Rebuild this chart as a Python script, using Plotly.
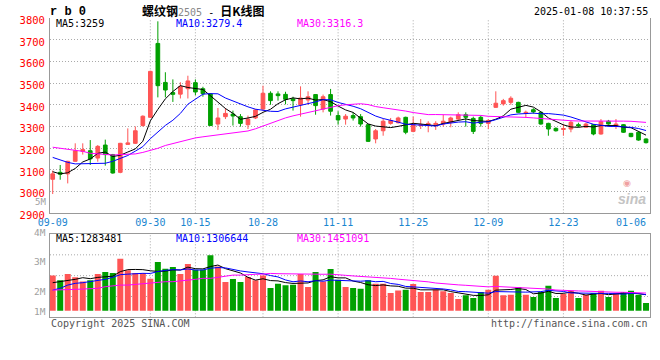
import plotly.graph_objects as go

# ---------------- data ----------------
dates = ["09-09","09-10","09-11","09-12","09-13","09-18","09-19","09-20","09-23","09-24",
         "09-25","09-26","09-27","09-30","10-08","10-09","10-10","10-11","10-14","10-15",
         "10-16","10-17","10-18","10-21","10-22","10-23","10-24","10-25","10-28","10-29",
         "10-30","10-31","11-01","11-04","11-05","11-06","11-07","11-08","11-11","11-12",
         "11-13","11-14","11-15","11-18","11-19","11-20","11-21","11-22","11-25","11-26",
         "11-27","11-28","11-29","12-02","12-03","12-04","12-05","12-06","12-09","12-10",
         "12-11","12-12","12-13","12-16","12-17","12-18","12-19","12-20","12-23","12-24",
         "12-25","12-26","12-27","12-30","12-31","01-02","01-03","01-06","01-07","01-08"]

opens = [3057,3089,3082,3140,3186,3189,3155,3215,3171,3089,
         3218,3223,3305,3343,3684,3504,3457,3450,3475,3503,
         3475,3451,3312,3346,3358,3346,3309,3340,3381,3454,
         3451,3449,3428,3401,3423,3448,3381,3448,3351,3335,
         3351,3346,3309,3243,3281,3315,3318,3343,3278,3305,
         3305,3309,3312,3320,3335,3355,3338,3343,3315,3389,
         3405,3412,3412,3361,3378,3366,3315,3292,3287,3289,
         3309,3297,3309,3266,3325,3305,3309,3269,3274,3243]
highs = [3097,3123,3142,3223,3223,3238,3215,3240,3174,3225,
         3292,3301,3352,3558,3786,3551,3518,3505,3535,3518,
         3484,3455,3386,3386,3374,3358,3351,3381,3489,3463,
         3463,3461,3438,3486,3463,3450,3448,3474,3371,3358,
         3366,3358,3312,3289,3335,3340,3346,3346,3346,3335,
         3325,3325,3355,3346,3366,3366,3346,3351,3335,3463,
         3428,3440,3415,3374,3385,3370,3318,3297,3312,3328,
         3318,3318,3312,3335,3331,3335,3312,3271,3280,3246]
lows = [2989,3055,3038,3138,3171,3123,3138,3120,3083,3085,
        3217,3220,3300,3341,3435,3435,3414,3430,3430,3445,
        3438,3303,3285,3335,3305,3300,3289,3335,3374,3401,
        3420,3403,3374,3346,3401,3355,3366,3351,3309,3309,
        3328,3300,3229,3223,3258,3309,3315,3265,3275,3289,
        3274,3285,3300,3297,3331,3300,3266,3300,3289,3386,
        3397,3401,3362,3340,3360,3309,3258,3277,3258,3274,
        3297,3294,3260,3263,3309,3289,3271,3251,3235,3222]
closes = [3082,3080,3140,3189,3194,3151,3209,3171,3086,3223,
          3225,3281,3348,3555,3489,3469,3449,3485,3511,3460,
          3452,3305,3340,3361,3349,3315,3335,3377,3454,3420,
          3443,3426,3420,3432,3438,3397,3438,3371,3331,3348,
          3340,3312,3232,3281,3325,3328,3340,3274,3309,3309,
          3315,3315,3325,3340,3355,3343,3278,3315,3328,3408,
          3420,3431,3366,3366,3368,3312,3289,3281,3291,3320,
          3303,3312,3266,3323,3312,3312,3274,3254,3238,3226]
# volume, millions of lots
volumes = [2.82,2.43,2.94,2.67,2.34,2.43,2.94,3.09,3.01,4.16,
           3.23,3.01,3.01,2.56,3.90,3.36,3.49,2.94,3.73,3.28,
           3.28,4.43,3.54,2.29,2.53,2.29,2.70,2.43,2.82,1.81,
           2.16,2.03,2.08,2.94,1.89,3.09,2.34,3.33,2.48,1.89,
           1.81,1.76,2.43,2.16,2.16,1.41,1.62,1.68,2.13,1.50,
           1.50,1.68,1.55,1.41,0.93,1.23,1.02,1.50,1.68,2.80,
           1.23,1.28,1.89,1.28,1.09,1.50,2.00,1.02,1.33,1.60,
           1.02,1.28,1.41,1.60,1.09,1.41,1.50,1.60,1.28,0.61]

# moving-average values before enough visible history exists
ma5_early = [3092, 3082, 3087, 3107]
ma10_early = [3158, 3146, 3135, 3128, 3128, 3128, 3128, 3131, 3140]
ma30_early = [3205, 3200, 3194, 3189, 3186, 3177, 3174, 3171, 3169, 3171,
              3171, 3174, 3181, 3190, 3200, 3213, 3222, 3232, 3242, 3248,
              3253, 3258, 3262, 3266, 3271, 3275, 3280, 3290, 3303]
vma5_early = [2.24, 2.32, 2.45, 2.51]
vma10_early = [1.65, 1.79, 2.05, 2.19, 2.24, 2.32, 2.45, 2.51, 2.67]
vma30_early = [1.65, 1.65, 1.65, 1.71, 1.73, 1.79, 1.79, 1.92, 2.00, 2.05,
               2.05, 2.10, 2.19, 2.19, 2.27, 2.32, 2.32, 2.37, 2.45, 2.51,
               2.59, 2.59, 2.67, 2.77, 2.85, 2.85, 2.85, 2.91, 2.93]

price_ticks = [2900, 3000, 3100, 3200, 3300, 3400, 3500, 3600, 3700, 3800]
date_ticks = ["09-09", "09-30", "10-15", "10-28", "11-11", "11-25", "12-09", "12-23", "01-06"]
grid_dates = ["09-30", "10-15", "10-28", "11-11", "11-25", "12-09", "12-23"]
vol_labels = ["5M", "4M", "3M", "2M", "1M"]
price_ma_text = ["MA5:3259", "MA10:3279.4", "MA30:3316.3"]
vol_ma_text = ["MA5:1283481", "MA10:1306644", "MA30:1451091"]

# ---------------- helpers ----------------
def moving_avg(vals, n, early):
    out = list(early)
    for i in range(len(early), len(vals)):
        out.append(sum(vals[i - n + 1:i + 1]) / n)
    return out

ma5 = moving_avg(closes, 5, ma5_early)
ma10 = moving_avg(closes, 10, ma10_early)
ma30 = moving_avg(closes, 30, ma30_early)
vma5 = moving_avg(volumes, 5, vma5_early)
vma10 = moving_avg(volumes, 10, vma10_early)
vma30 = moving_avg(volumes, 30, vma30_early)

RED = "#ff5555"
GREEN = "#00a000"
MA_COLORS = ["#000000", "#0000ff", "#ff00ff"]
GRID = "#aaaaaa"
BORDER = "#999999"
MONO = "DejaVu Sans Mono"
xi = list(range(len(dates)))
bar_colors = [RED if c >= o else GREEN for o, c in zip(opens, closes)]

W, H = 660, 360
PL, PR = 50, 650
def px(xp):
    return (xp - PL) / (PR - PL)
def py(yp):
    return 1 - yp / H

fig = go.Figure()
fig.add_trace(go.Candlestick(
    x=xi, open=opens, high=highs, low=lows, close=closes,
    increasing=dict(line=dict(color=RED, width=1), fillcolor=RED),
    decreasing=dict(line=dict(color=GREEN, width=1), fillcolor=GREEN),
    whiskerwidth=0, xaxis="x", yaxis="y", hoverinfo="skip"))
for vals, col in zip([ma5, ma10, ma30], MA_COLORS):
    fig.add_trace(go.Scatter(x=xi, y=vals, mode="lines", line=dict(color=col, width=1),
                             xaxis="x", yaxis="y", hoverinfo="skip"))
fig.add_trace(go.Bar(x=xi, y=volumes, marker=dict(color=bar_colors, line=dict(width=0)),
                     width=0.8, xaxis="x2", yaxis="y2", hoverinfo="skip"))
for vals, col in zip([vma5, vma10, vma30], MA_COLORS):
    fig.add_trace(go.Scatter(x=xi, y=vals, mode="lines", line=dict(color=col, width=1),
                             xaxis="x2", yaxis="y2", hoverinfo="skip"))

x_range = [-0.36, 79.53]
tick_idx = [dates.index(d) for d in date_ticks]
grid_idx = [dates.index(d) for d in grid_dates]

shapes = []
for gi in grid_idx:
    for yr in ["y domain", "y2 domain"]:
        shapes.append(dict(type="line", xref="x", yref=yr, x0=gi, x1=gi, y0=0, y1=1,
                           line=dict(color=GRID, width=1, dash="1px,2px"), layer="below"))
for f in [0.25, 0.5, 0.75]:
    shapes.append(dict(type="line", xref="paper", yref="y2 domain", x0=0, x1=1, y0=f, y1=f,
                       line=dict(color=GRID, width=1, dash="1px,2px"), layer="below"))

fig.update_layout(
    template="none",
    width=W, height=H,
    margin=dict(l=PL, r=W - PR, t=0, b=0, pad=0, autoexpand=False),
    paper_bgcolor="white", plot_bgcolor="white",
    showlegend=False, hovermode=False,
    xaxis=dict(domain=[0, 1], anchor="y", range=x_range, rangeslider=dict(visible=False),
               automargin=False,
               tickmode="array", tickvals=tick_idx, ticktext=date_ticks,
               tickfont=dict(family=MONO, size=10, color="#1a86d0"),
               ticks="", ticklabelstandoff=0,
               showgrid=False, zeroline=False, showline=True, linecolor=BORDER, linewidth=1),
    yaxis=dict(domain=[py(213.3), py(18.3)], anchor="x", range=[2900, 3800], automargin=False,
               tickmode="array", tickvals=price_ticks,
               tickfont=dict(family=MONO, size=10.5, color="#ff0000"), ticks="",
               ticklabelshift=2, ticklabelstandoff=2,
               showgrid=True, gridcolor=GRID, griddash="1px,2px", gridwidth=1,
               zeroline=False, showline=True, mirror=True, linecolor=BORDER, linewidth=1),
    xaxis2=dict(domain=[0, 1], anchor="y2", range=x_range, matches="x", automargin=False,
                showticklabels=False, ticks="", showgrid=False, zeroline=False,
                showline=True, mirror=True, linecolor=BORDER, linewidth=1),
    yaxis2=dict(domain=[py(317.3), py(234.0)], anchor="x2", range=[-0.528, 6.136], automargin=False,
                showticklabels=False, ticks="", showgrid=False, zeroline=False,
                showline=True, mirror=True, linecolor=BORDER, linewidth=1),
    shapes=shapes,
)

ann = []
def text(x, y, s, color="#000000", size=10, xanchor="left", family=MONO, **kw):
    ann.append(dict(x=px(x), y=py(y), xref="paper", yref="paper", text=s, showarrow=False,
                    xanchor=xanchor, yanchor="middle",
                    font=dict(family=family, size=size, color=color), **kw))

text(48, 11.5, "<b>r b 0</b>", size=12, family="Liberation Mono")
text(140, 10.5,
     "<b>螺纹钢</b><span style='color:#888888;font-family:DejaVu Sans Mono;font-size:10px'>2505</span>"
     "<span style='font-family:DejaVu Sans Mono;font-size:10px'> - </span><b>日K线图</b>",
     size=12, family="Noto Sans CJK SC")
text(650, 11.5, "2025-01-08 10:37:55", xanchor="right")
for xp, s, col in zip([54, 174, 295], price_ma_text, MA_COLORS):
    text(xp, 24, s, color=col)
for xp, s, col in zip([54, 174, 295], vol_ma_text, MA_COLORS):
    text(xp, 238.5, s, color=col)
for yp, s, sz in zip([201.5, 232, 261, 291, 311], vol_labels, [9, 9.5, 9.5, 9.5, 9.5]):
    text(47.5, yp, s, color="#a0a0a0", size=sz, xanchor="right")
text(49, 323.5, "Copyright 2025 SINA.COM", color="#555555")
text(650, 323.5, "http://finance.sina.com.cn", color="#555555", xanchor="right")
text(627, 182.5, "◉", color="#f0a0a0", size=9, xanchor="center", family="DejaVu Sans")
text(632, 198.5, "<b><i>sina</i></b>", color="#c4c4c4", size=14, xanchor="center", family="Liberation Sans")
fig.update_layout(annotations=ann)

fig.write_html("out.html", config={"displayModeBar": False},
               post_script="document.body.style.margin='0';document.body.style.padding='0';")
